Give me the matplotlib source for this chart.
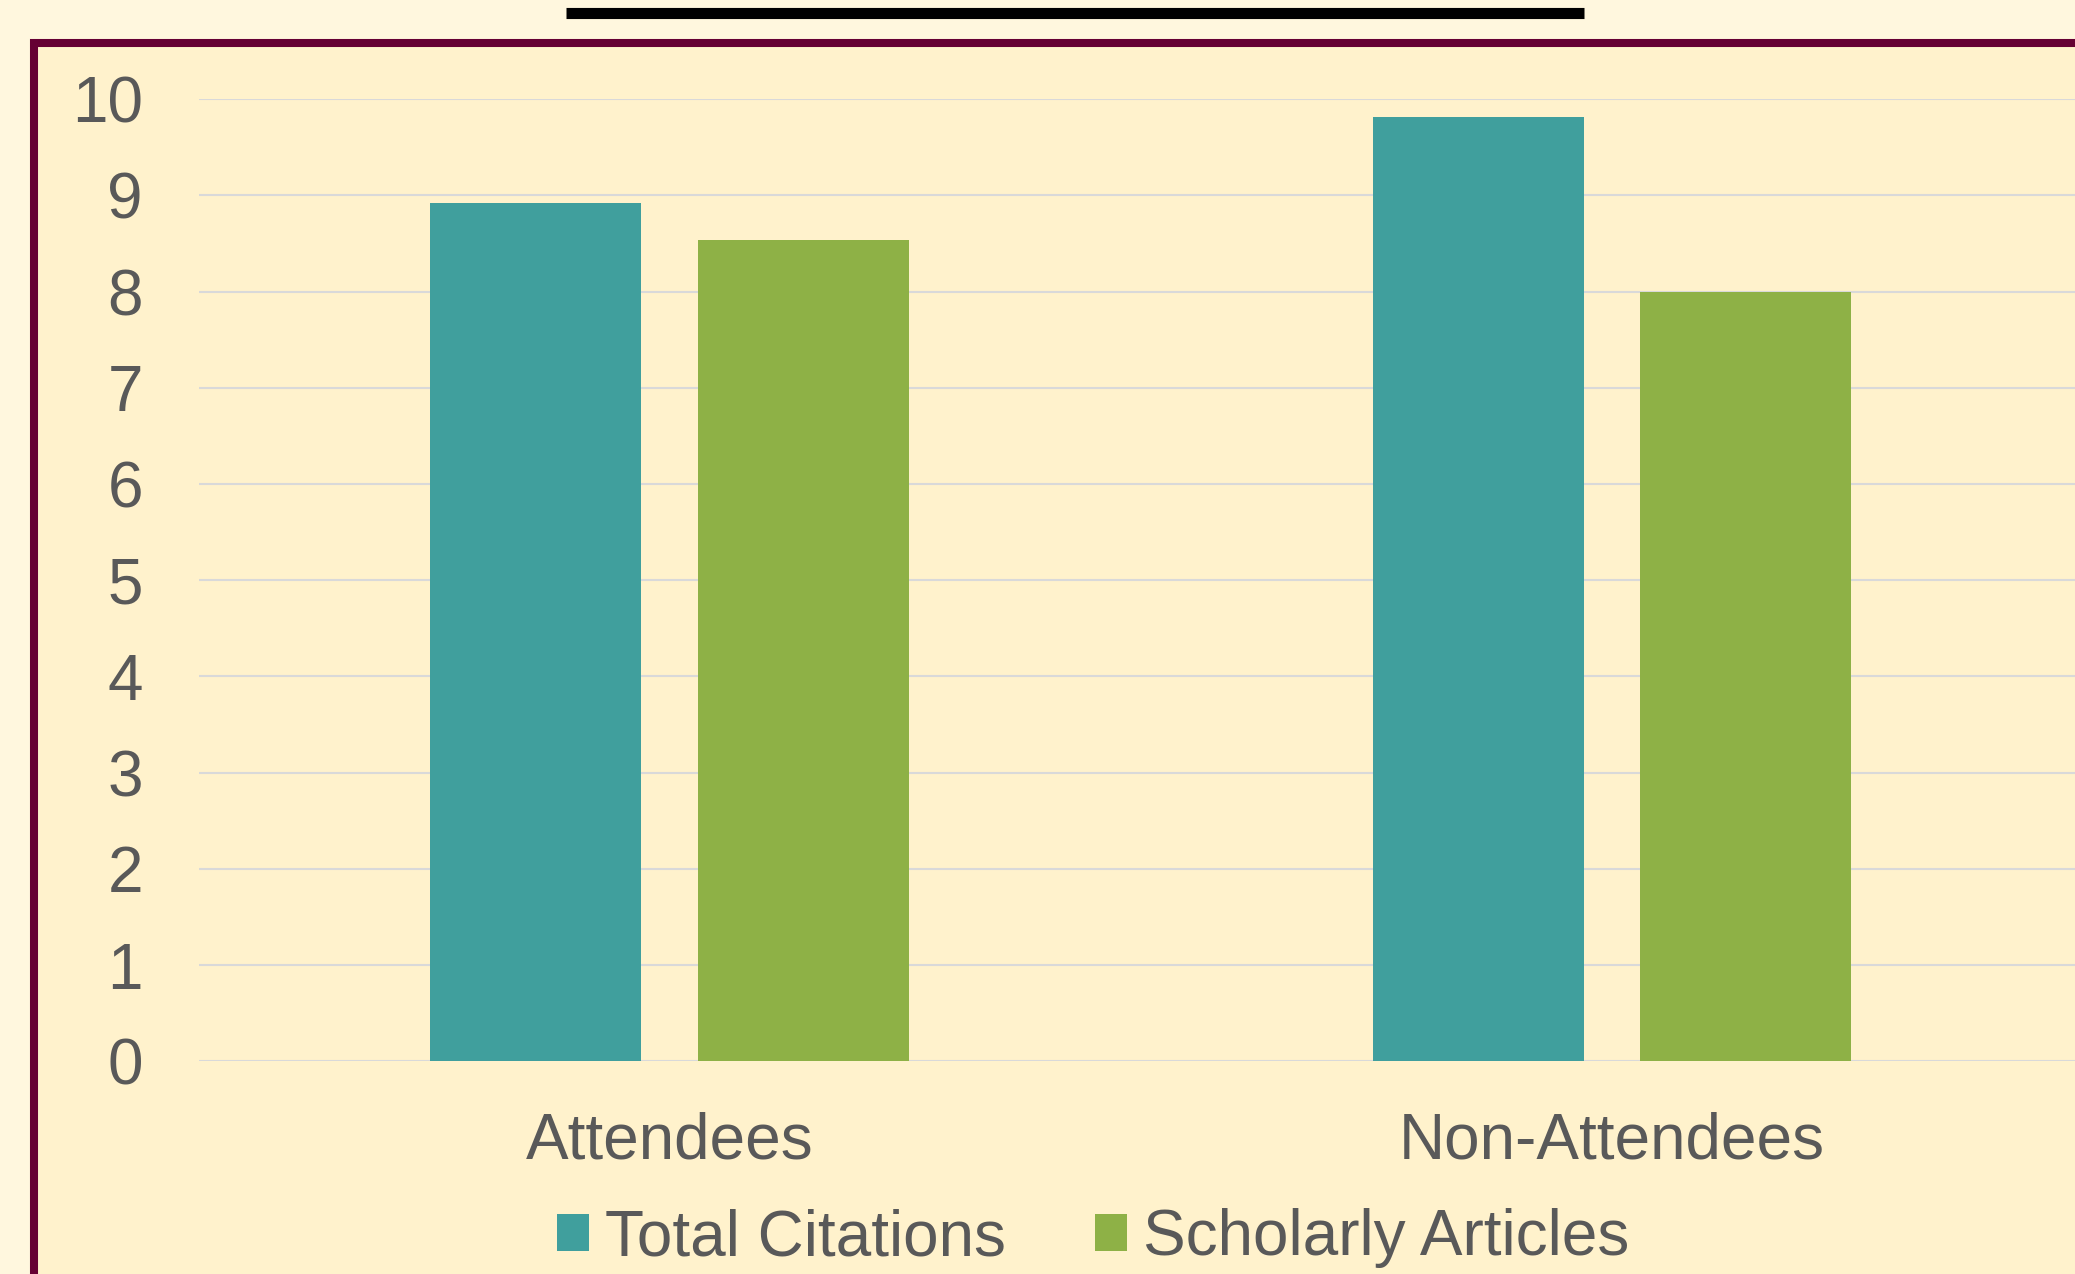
import matplotlib
matplotlib.use("Agg")
import matplotlib.pyplot as plt
import numpy as np
from matplotlib.patches import Rectangle, Patch
from matplotlib.lines import Line2D

categories = ["Attendees", "Non-Attendees"]
series_names = ["Total Citations", "Scholarly Articles"]
total_citations = [8.92, 9.82]
scholarly_articles = [8.54, 8.0]
y_ticks = [0, 1, 2, 3, 4, 5, 6, 7, 8, 9, 10]

teal = "#409F9D"
green = "#8EB146"
text_col = "#595959"

plt.rcParams['font.family'] = ['Liberation Sans', 'DejaVu Sans']

W, H = 2075, 1274
fig = plt.figure(figsize=(W / 100, H / 100), dpi=100)
fig.patch.set_facecolor("#FFF7DE")

# chart frame (runs off the right and bottom edges)
frame = Rectangle((34 / W, -0.2), 1.2, 1 - 42.5 / H + 0.2, transform=fig.transFigure,
                  facecolor="#FFF2CC", edgecolor="#660033", linewidth=5.8, zorder=-1)
fig.patches.append(frame)

# black bar at the top
fig.add_artist(Line2D([566 / W, 1584 / W], [1 - 13 / H, 1 - 13 / H], color="black",
                      linewidth=8, solid_capstyle="butt"))

left, right = 198.5, 2083
top, bottom = 99.2, 1061.3
ax = fig.add_axes([left / W, 1 - bottom / H, (right - left) / W, (bottom - top) / H])
ax.set_facecolor("none")
ax.set_zorder(2)

x = np.arange(len(categories))
off = 0.142
bw = 0.224
ax.bar(x - off, total_citations, bw, color=teal, zorder=3, label=series_names[0])
ax.bar(x + off, scholarly_articles, bw, color=green, zorder=3, label=series_names[1])

ax.set_xlim(-0.5, 1.5)
ax.set_ylim(0, 10)
ax.set_yticks(y_ticks)
ax.set_yticklabels([str(t) for t in y_ticks])
ax.set_xticks(x)
ax.set_xticklabels(categories)
ax.grid(axis="y", color="#D9D9D9", linewidth=1.5, zorder=0)
ax.set_axisbelow(True)
for s in ax.spines.values():
    s.set_visible(False)
ax.tick_params(axis="y", length=0, pad=40, labelsize=46, labelcolor=text_col)
ax.tick_params(axis="x", length=0, pad=36, labelsize=46, labelcolor=text_col)

handles = [Patch(facecolor=teal), Patch(facecolor=green)]
fig.legend(handles, series_names, loc="center", bbox_to_anchor=(1093 / W, 1 - 1238 / H),
           ncol=2, frameon=False, fontsize=46, labelcolor=text_col,
           handlelength=0.5, handleheight=0.5, handletextpad=0.25, columnspacing=1.4,
           borderaxespad=0, borderpad=0)

fig.savefig("out.png", dpi=100, facecolor=fig.get_facecolor())
